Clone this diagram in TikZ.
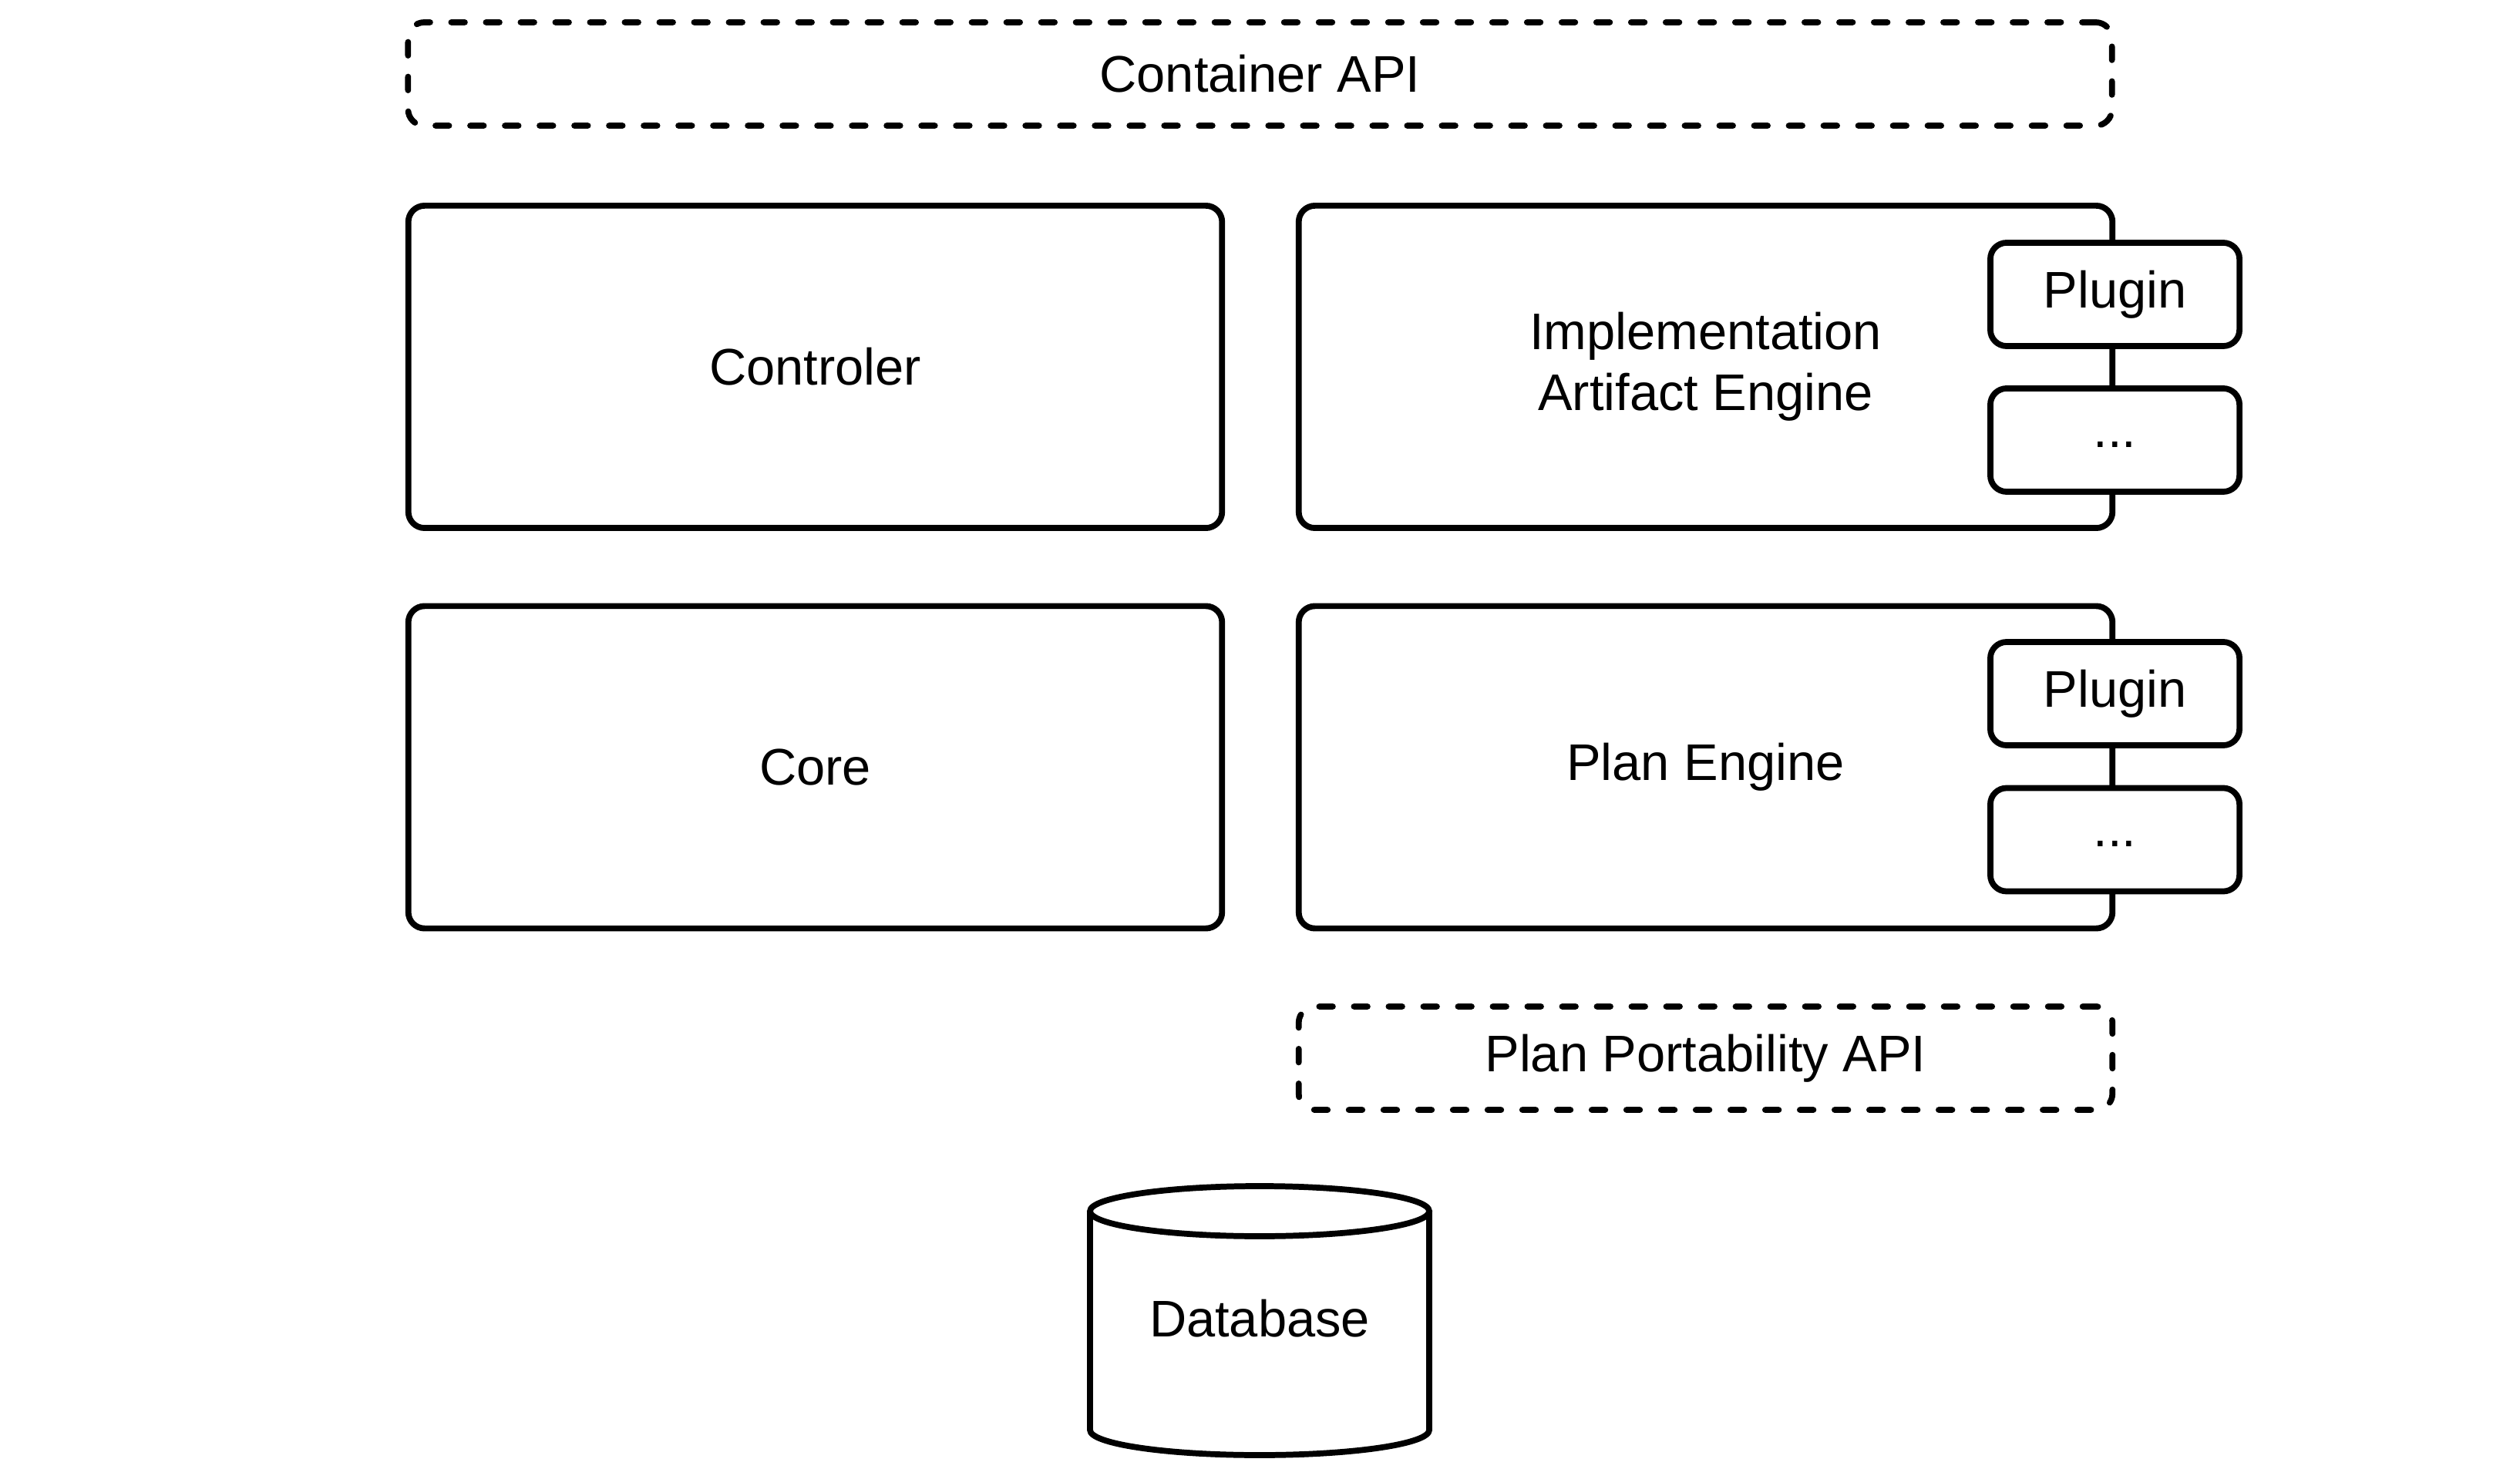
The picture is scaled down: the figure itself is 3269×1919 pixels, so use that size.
\documentclass[tikz,border=0pt]{standalone}
\usepackage{fontspec}
\setmainfont{Liberation Sans}
\begin{document}
\begin{tikzpicture}[x=0.01cm,y=-0.01cm,
  every node/.style={font=\fontsize{19}{22.5}\selectfont, inner sep=0pt, align=center},
  solidbox/.style={draw, line width=2.2pt, rounded corners=6pt, fill=white, minimum width=10.55cm, minimum height=4.18cm},
  apibox/.style={draw, line width=2.2pt, rounded corners=6pt, dash pattern=on 5pt off 7.8pt, line cap=round, minimum height=1.34cm},
  plugbox/.style={draw, line width=2.2pt, rounded corners=6pt, fill=white, minimum width=3.23cm, minimum height=1.34cm},
  dotsbox/.style={plugbox, text height=5.3pt, text depth=0pt}
]
\useasboundingbox (0,0) rectangle (3269,1919);
\node[apibox, minimum width=22.09cm] (capi) at (1634.5,96) {Container API};
\node[solidbox] (ctrl) at (1057.5,476) {Controler};
\node[solidbox] (iae) at (2212.5,476) {Implementation\\Artifact Engine};
\node[plugbox] (plug1) at (2743.5,382) {Plugin};
\node[dotsbox] (dots1) at (2743.5,571) {...};
\node[solidbox] (core) at (1057.5,995.5) {Core};
\node[solidbox] (pe) at (2212.5,995.5) {Plan Engine};
\node[plugbox] (plug2) at (2743.5,900) {Plugin};
\node[dotsbox] (dots2) at (2743.5,1089.5) {...};
\node[apibox, minimum width=10.55cm] (ppapi) at (2212.5,1373) {Plan Portability API};
% Database cylinder
\draw[line width=2.2pt] (1634,1571.5) ellipse [x radius=220, y radius=32.5];
\draw[line width=2.2pt] (1414,1571.5) -- (1414,1855.5) arc[start angle=180, end angle=360, x radius=220, y radius=-32.5] -- (1854,1571.5);
\node (db) at (1634,1711) {Database};
\end{tikzpicture}
\end{document}
